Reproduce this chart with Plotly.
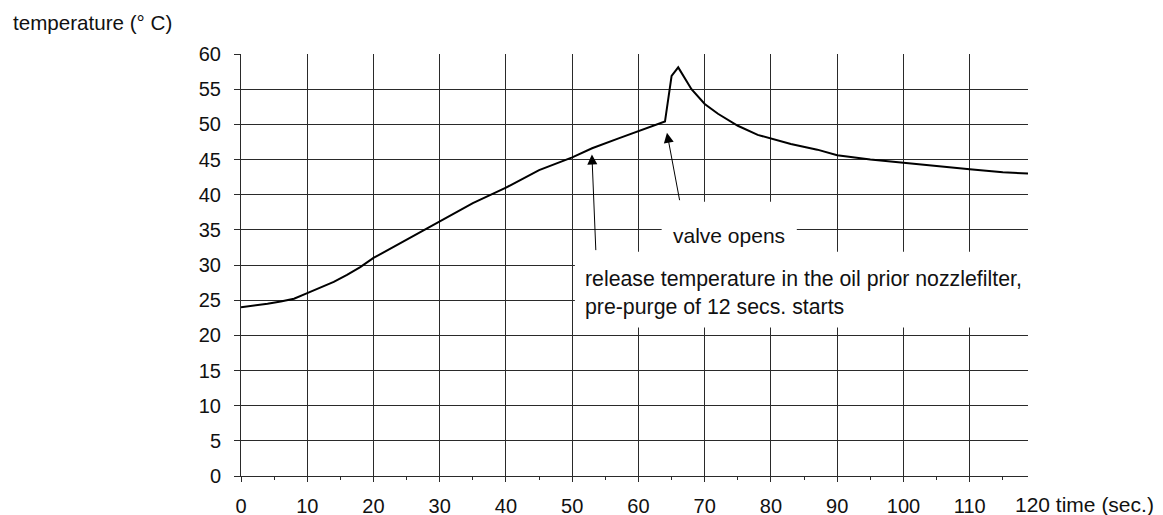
import plotly.graph_objects as go

# data
time_s = [0, 2, 4, 6, 8, 10, 12, 14, 16, 18, 20, 25, 30, 35, 40, 45, 50, 53, 57, 60,
          64, 65, 66, 68, 70, 72, 75, 78, 80, 83, 87, 90, 95, 100, 105, 110, 115, 118.8]
temp_c = [24.0, 24.2, 24.5, 24.8, 25.2, 26.0, 26.8, 27.6, 28.6, 29.7, 31.0, 33.6, 36.3, 38.8,
          41.0, 43.5, 45.3, 46.6, 48.0, 49.0, 50.4, 56.9, 58.1, 55.0, 52.9, 51.5, 49.8, 48.5,
          48.0, 47.2, 46.4, 45.6, 45.0, 44.5, 44.0, 43.6, 43.2, 43.0]
x_ticks = [0, 10, 20, 30, 40, 50, 60, 70, 80, 90, 100, 110]
x_tick_labels = ["0", "10", "20", "30", "40", "50", "60", "70", "80", "90", "100", "110"]
y_ticks = [0, 5, 10, 15, 20, 25, 30, 35, 40, 45, 50, 55, 60]
y_tick_labels = [str(v) for v in y_ticks]
x_title = "120 time (sec.)"
y_title = "temperature (° C)"
note_valve = "valve opens"
note_release = "release temperature in the oil prior nozzlefilter,<br>pre-purge of 12 secs. starts"

FONT = "Liberation Sans, Arial, Helvetica, sans-serif"
GRID = "#2a2a2a"
TXT = "#111111"

fig = go.Figure()
fig.add_trace(go.Scatter(x=time_s, y=temp_c, mode="lines",
                         line=dict(color="black", width=2), showlegend=False,
                         hoverinfo="skip"))

# white boxes behind the labels (break the grid)
fig.add_shape(type="rect", xref="x", yref="y", x0=50.4, x1=118.8, y0=21.1, y1=31.9,
              fillcolor="white", line=dict(width=0), layer="between")
fig.add_shape(type="rect", xref="x", yref="y", x0=63.5, x1=83.9, y0=31.85, y1=39.0,
              fillcolor="white", line=dict(width=0), layer="between")

fig.add_annotation(x=73.6, y=34.2, xref="x", yref="y", text=note_valve, showarrow=False,
                   font=dict(size=21, color=TXT, family=FONT))
fig.add_annotation(x=51.6, y=26.0, xref="x", yref="y", text=note_release, showarrow=False,
                   xanchor="left", align="left",
                   font=dict(size=21.3, color=TXT, family=FONT))

# arrows
fig.add_annotation(x=52.97, y=45.7, ax=53.57, ay=31.9, xref="x", yref="y",
                   axref="x", ayref="y", text="", showarrow=True,
                   arrowhead=2, arrowsize=2, arrowwidth=1, arrowcolor="black")
fig.add_annotation(x=64.3, y=48.8, ax=66.25, ay=39.0, xref="x", yref="y",
                   axref="x", ayref="y", text="", showarrow=True,
                   arrowhead=2, arrowsize=2, arrowwidth=1, arrowcolor="black")

# axis titles
fig.add_annotation(x=0.981, y=0, xref="paper", yref="paper", text=x_title, showarrow=False,
                   xanchor="left", yanchor="middle", yshift=-28,
                   font=dict(size=21, color=TXT, family=FONT))
fig.add_annotation(x=-0.292, y=1.075, xref="paper", yref="paper", text=y_title,
                   showarrow=False, xanchor="left", yanchor="middle",
                   font=dict(size=20.6, color=TXT, family=FONT))

fig.update_xaxes(range=[0, 118.8], tickvals=x_ticks, ticktext=x_tick_labels,
                 showgrid=True, gridcolor=GRID, gridwidth=1, zeroline=False,
                 showline=True, linecolor=GRID, linewidth=1, automargin=False,
                 ticks="outside", ticklen=5, tickcolor=GRID, ticklabelstandoff=7,
                 minor=dict(dtick=5, tick0=0, ticks="outside", ticklen=3, tickcolor=GRID,
                            showgrid=False),
                 tickfont=dict(size=20, color=TXT, family=FONT), fixedrange=True)
fig.update_yaxes(range=[0, 60], tickvals=y_ticks, ticktext=y_tick_labels,
                 showgrid=True, gridcolor=GRID, gridwidth=1, zeroline=False,
                 showline=True, linecolor=GRID, linewidth=1, automargin=False,
                 ticks="outside", ticklen=6, tickcolor=GRID, ticklabelstandoff=9,
                 tickfont=dict(size=20, color=TXT, family=FONT), fixedrange=True)

fig.update_layout(width=1163, height=515, plot_bgcolor="white", paper_bgcolor="white",
                  margin=dict(l=233, r=143, t=46, b=47), showlegend=False,
                  font=dict(family=FONT))

fig.write_html("out.html")
